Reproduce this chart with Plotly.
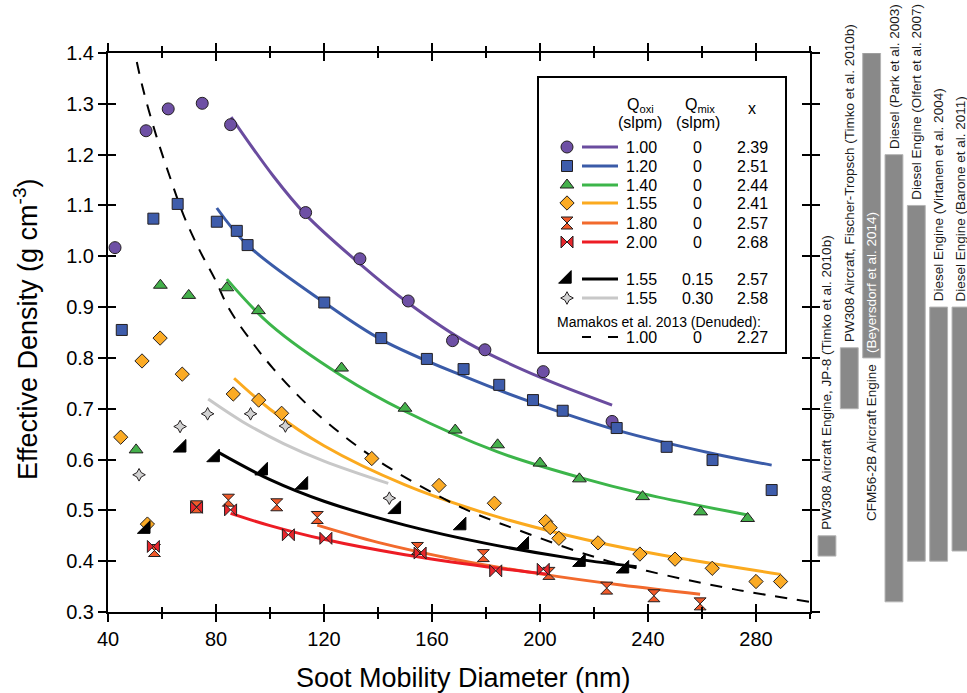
import plotly.graph_objects as go

# ---------------- data ----------------
# Measured points: soot mobility diameter (nm) and effective density (g cm^-3)
purple_d = [42.6, 54.1, 62.3, 74.9, 85.4, 113.2, 133.3, 151.2, 167.6, 179.6, 201.2, 226.7]
purple_r = [1.017, 1.247, 1.290, 1.301, 1.259, 1.086, 0.995, 0.912, 0.834, 0.816, 0.773, 0.675]

blue_d = [45.1, 56.8, 65.8, 80.3, 87.7, 91.7, 120.1, 141.2, 158.1, 171.7, 184.9, 197.4, 208.4, 228.4, 246.9, 263.9, 285.8]
blue_r = [0.855, 1.074, 1.103, 1.068, 1.050, 1.022, 0.909, 0.839, 0.798, 0.778, 0.747, 0.717, 0.696, 0.662, 0.625, 0.599, 0.540]

green_d = [50.4, 59.4, 69.9, 84.0, 95.7, 126.5, 150.0, 168.6, 184.3, 200.0, 214.6, 238.0, 259.5, 276.9]
green_r = [0.619, 0.943, 0.923, 0.938, 0.893, 0.780, 0.701, 0.658, 0.629, 0.593, 0.562, 0.527, 0.497, 0.484]

orange_d = [44.7, 52.6, 54.6, 59.3, 67.5, 86.4, 95.8, 104.3, 137.7, 162.6, 183.1, 202.1, 203.8, 207.0, 221.5, 237.0, 250.0, 263.8, 280.0, 289.1]
orange_r = [0.644, 0.794, 0.473, 0.839, 0.768, 0.729, 0.717, 0.691, 0.602, 0.549, 0.514, 0.478, 0.466, 0.445, 0.436, 0.414, 0.404, 0.386, 0.360, 0.360]

hour_d = [57.2, 72.8, 84.6, 102.5, 117.5, 154.6, 179.0, 203.3, 224.7, 242.2, 259.3]
hour_r = [0.421, 0.507, 0.520, 0.511, 0.486, 0.425, 0.411, 0.376, 0.347, 0.332, 0.316]

bow_d = [56.8, 72.8, 85.4, 106.8, 120.7, 155.6, 183.6, 201.2]
bow_r = [0.429, 0.506, 0.501, 0.452, 0.445, 0.416, 0.381, 0.384]

black_d = [54.0, 67.3, 79.7, 97.5, 112.4, 146.8, 171.0, 194.2, 215.2, 231.3]
black_r = [0.463, 0.623, 0.604, 0.578, 0.550, 0.502, 0.470, 0.432, 0.398, 0.385]

gray_d = [51.5, 66.7, 76.9, 92.8, 105.7, 144.2]
gray_r = [0.570, 0.665, 0.690, 0.690, 0.666, 0.524]

# Fit curves
purple_fit_d = [85.6, 101.2, 113.2, 133.3, 151.2, 173.4, 200.0, 226.7]
purple_fit_r = [1.274, 1.158, 1.082, 0.985, 0.908, 0.829, 0.762, 0.707]
blue_fit_d = [80.3, 91.7, 120.1, 141.2, 171.7, 197.4, 228.4, 263.9, 285.8]
blue_fit_r = [1.095, 1.022, 0.909, 0.836, 0.764, 0.712, 0.658, 0.612, 0.589]
green_fit_d = [84.0, 100.0, 126.5, 150.0, 184.3, 214.6, 238.0, 276.9]
green_fit_r = [0.955, 0.866, 0.765, 0.695, 0.615, 0.565, 0.533, 0.491]
orange_fit_d = [86.7, 100.0, 120.0, 150.0, 180.0, 210.0, 240.0, 289.1]
orange_fit_r = [0.760, 0.699, 0.627, 0.550, 0.494, 0.451, 0.417, 0.374]
hour_fit_d = [117.5, 140.0, 170.0, 200.0, 230.0, 259.3]
hour_fit_r = [0.471, 0.437, 0.402, 0.375, 0.353, 0.335]
red_fit_d = [85.4, 100.0, 120.0, 150.0, 180.0, 203.0]
red_fit_r = [0.494, 0.470, 0.443, 0.4125, 0.389, 0.3745]
black_fit_d = [80.9, 100.0, 120.0, 150.0, 180.0, 210.0, 235.8]
black_fit_r = [0.614, 0.5605, 0.518, 0.471, 0.435, 0.407, 0.389]
gray_fit_d = [77.1, 90.0, 105.0, 120.0, 143.8]
gray_fit_r = [0.719, 0.674, 0.6315, 0.597, 0.553]
mamakos_d = [49.0, 52.7, 58.0, 63.0, 67.9, 73.8, 79.6, 84.9, 93.8, 101.2, 113.6, 128.4, 144.4, 170.4, 195.1, 222.2, 246.9, 271.6, 300.0]
mamakos_r = [1.425, 1.335, 1.235, 1.155, 1.082, 1.013, 0.955, 0.896, 0.828, 0.779, 0.709, 0.642, 0.583, 0.507, 0.455, 0.405, 0.372, 0.345, 0.320]

# Literature ranges (side panel)
lit_labels = ["PW308 Aircraft Engine, JP-8 (Timko et al. 2010b)",
              "PW308 Aircraft, Fischer-Tropsch (Timko et al. 2010b)",
              "CFM56-2B Aircraft Engine",
              "Diesel (Park et al. 2003)",
              "Diesel Engine (Olfert et al. 2007)",
              "Diesel Engine (Virtanen et al. 2004)",
              "Diesel Engine (Barone et al. 2011)"]
lit_low = [0.41, 0.70, 0.80, 0.32, 0.40, 0.40, 0.42]
lit_high = [0.45, 0.82, 1.40, 1.20, 1.10, 0.90, 0.90]

# Legend table
leg_qoxi = ["1.00", "1.20", "1.40", "1.55", "1.80", "2.00", "1.55", "1.55", "1.00"]
leg_qmix = ["0", "0", "0", "0", "0", "0", "0.15", "0.30", "0"]
leg_x = ["2.39", "2.51", "2.44", "2.41", "2.57", "2.68", "2.57", "2.58", "2.27"]

x_ticks = [40, 80, 120, 160, 200, 240, 280]
x_minor_ticks = [60, 100, 140, 180, 220, 260, 300]

# ---------------- geometry ----------------
W, H = 967, 693
L, T, B = 108, 53, 81
PW = 702
PH = H - T - B
INNER_W = W - L


def fx(px):
    return (px - L) / PW


def fy(py):
    return (H - B - py) / PH


def ppx(px):
    return (px - L) / INNER_W


FONT = "Liberation Sans, Arial, Helvetica, sans-serif"
OUT = "#231F20"

styles = [
    # fit_d, fit_r, d, r, symbol, line color, fill, size
    (purple_fit_d, purple_fit_r, purple_d, purple_r, "circle", "#6A4C9F", "#6E50A5", 12),
    (blue_fit_d, blue_fit_r, blue_d, blue_r, "square", "#3A5BA8", "#3E5CAB", 11),
    (green_fit_d, green_fit_r, green_d, green_r, "triangle-up", "#3CB54A", "#44B04B", 12),
    (orange_fit_d, orange_fit_r, orange_d, orange_r, "diamond", "#FBAA1F", "#FBAB25", 11),
    (hour_fit_d, hour_fit_r, hour_d, hour_r, "hourglass", "#F26A2D", "#F15A29", 12),
    (red_fit_d, red_fit_r, bow_d, bow_r, "bowtie", "#ED1C24", "#E8262C", 12),
    (black_fit_d, black_fit_r, black_d, black_r, "triangle-se", "#000000", "#000000", 14),
    (gray_fit_d, gray_fit_r, gray_d, gray_r, "star-diamond", "#C8C8C8", "#D2D2D2", 9),
]

fig = go.Figure()

# fit lines
for fd, fr, d, r, sym, lc, fc, sz in styles:
    fig.add_trace(go.Scatter(x=fd, y=fr, mode="lines", line=dict(color=lc, width=3, shape="spline"),
                             hoverinfo="skip", showlegend=False))
fig.add_trace(go.Scatter(x=mamakos_d, y=mamakos_r, mode="lines",
                         line=dict(color="black", width=2, dash="12px,10px", shape="spline"),
                         hoverinfo="skip", showlegend=False))
# markers
for fd, fr, d, r, sym, lc, fc, sz in styles:
    fig.add_trace(go.Scatter(x=d, y=r, mode="markers",
                             marker=dict(symbol=sym, size=sz, color=fc,
                                         line=dict(color=OUT if fc != "#000000" else "#000000", width=1)),
                             showlegend=False, cliponaxis=False))

# dummy trace for overlay (inside ticks)
fig.add_trace(go.Scatter(x=[None], y=[None], xaxis="x2", yaxis="y2", showlegend=False, hoverinfo="skip"))

# literature bars on side subplot
fig.add_trace(go.Bar(x=list(range(len(lit_labels))), y=[h - l for h, l in zip(lit_high, lit_low)],
                     base=lit_low, width=0.8, xaxis="x4", yaxis="y4",
                     marker=dict(color="#898989", line=dict(color="#B4B4B4", width=1)),
                     showlegend=False, hoverinfo="skip"))

# ---------------- legend (table) ----------------
row_py = [147, 166, 185, 203, 223, 242, 279, 298, 337]
mk_x = fx(567)
for i, (fd, fr, d, r, sym, lc, fc, sz) in enumerate(styles):
    fig.add_trace(go.Scatter(x=[mk_x], y=[fy(row_py[i])], mode="markers", xaxis="x3", yaxis="y3",
                             marker=dict(symbol=sym, size=sz, color=fc,
                                         line=dict(color=OUT if fc != "#000000" else "#000000", width=1)),
                             showlegend=False, hoverinfo="skip", cliponaxis=False))

shapes = []
shapes.append(dict(type="rect", xref="x3", yref="y3", x0=fx(538), x1=fx(786), y0=fy(77), y1=fy(353),
                   line=dict(color="black", width=2), fillcolor="white", layer="below"))
for i, st in enumerate(styles):
    shapes.append(dict(type="line", xref="x3", yref="y3", x0=fx(582), x1=fx(618),
                       y0=fy(row_py[i]), y1=fy(row_py[i]), line=dict(color=st[5], width=3)))
for a, b in [(582, 591), (608, 618)]:
    shapes.append(dict(type="line", xref="x3", yref="y3", x0=fx(a), x1=fx(b),
                       y0=fy(row_py[8]), y1=fy(row_py[8]), line=dict(color="black", width=2)))

ann = []


def legtext(txt, px, py, size=16, xanchor="center"):
    ann.append(dict(text=txt, xref="x3", yref="y3", x=fx(px), y=fy(py), showarrow=False,
                    xanchor=xanchor, yanchor="middle", font=dict(size=size, color="black", family=FONT)))


legtext("Q<sub>oxi</sub>", 640, 105)
legtext("(slpm)", 640, 122)
legtext("Q<sub>mix</sub>", 700, 105)
legtext("(slpm)", 698, 122)
legtext("x", 752, 108)
for i in range(len(leg_qoxi)):
    legtext(leg_qoxi[i], 641, row_py[i])
    legtext(leg_qmix[i], 697, row_py[i])
    legtext(leg_x[i], 752, row_py[i])
legtext("Mamakos et al. 2013 (Denuded):", 659, 322, size=14)

# axis titles
ann.append(dict(text="Soot Mobility Diameter (nm)", xref="paper", yref="paper", x=ppx(463), y=fy(678),
                showarrow=False, xanchor="center", yanchor="middle", font=dict(size=27, family=FONT, color="black")))
ann.append(dict(text="Effective Density (g cm<sup>-3</sup>)", xref="paper", yref="paper", x=ppx(26), y=fy(330),
                showarrow=False, textangle=-90, xanchor="center", yanchor="middle",
                font=dict(size=27, family=FONT, color="black")))

# literature labels
SIDE_FONT = dict(size=13.5, family=FONT, color="#1a1a1a")
for i, lab in enumerate(lit_labels):
    if i == 2:
        ann.append(dict(text=lab, xref="x4", yref="y4", x=i, y=lit_low[i], showarrow=False, textangle=-90,
                        xanchor="center", yanchor="top", yshift=-4, font=SIDE_FONT))
        ann.append(dict(text="(Beyersdorf et al. 2014)", xref="x4", yref="y4", x=i, y=lit_low[i], showarrow=False,
                        textangle=-90, xanchor="center", yanchor="bottom", yshift=3,
                        font=dict(size=13.5, family=FONT, color="white")))
    else:
        ann.append(dict(text=lab, xref="x4", yref="y4", x=i, y=lit_high[i], showarrow=False, textangle=-90,
                        xanchor="center", yanchor="bottom", yshift=4, font=SIDE_FONT))

main_dom = [0, PW / INNER_W]
side_dom = [ppx(815.8), 1.0]

tickfont = dict(size=20, family=FONT, color="black")
xbase = dict(range=[40, 300], tickmode="array", tickvals=x_ticks, showline=True, linewidth=2, linecolor="black",
             tickwidth=2, tickcolor="black", ticklen=8, mirror="ticks", showgrid=False, zeroline=False,
             domain=main_dom, tickfont=tickfont)
ybase = dict(range=[0.3, 1.4], tick0=0.3, dtick=0.1, tickformat=".1f", showline=True, linewidth=2,
             linecolor="black", tickwidth=2, tickcolor="black", ticklen=8, mirror="ticks", showgrid=False,
             zeroline=False, domain=[0, 1], tickfont=tickfont)

xaxis = dict(xbase, ticks="outside", anchor="y",
             minor=dict(ticks="outside", tickvals=x_minor_ticks, ticklen=5, tickwidth=2,
                        tickcolor="black", showgrid=False))
xaxis2 = dict(xbase, ticks="inside", anchor="y2", overlaying="x", showticklabels=False,
              minor=dict(ticks="inside", tickvals=x_minor_ticks, ticklen=5, tickwidth=2,
                         tickcolor="black", showgrid=False))
yaxis = dict(ybase, ticks="outside", anchor="x")
yaxis2 = dict(ybase, ticks="inside", anchor="x2", overlaying="y", showticklabels=False)

fig.update_layout(
    width=W, height=H,
    margin=dict(l=L, r=0, t=T, b=B, autoexpand=False),
    paper_bgcolor="white", plot_bgcolor="rgba(0,0,0,0)",
    showlegend=False,
    font=dict(family=FONT, color="black"),
    xaxis=xaxis, xaxis2=xaxis2, yaxis=yaxis, yaxis2=yaxis2,
    xaxis3=dict(range=[0, 1], visible=False, overlaying="x", anchor="y3", domain=main_dom),
    yaxis3=dict(range=[0, 1], visible=False, overlaying="y", anchor="x3", domain=[0, 1]),
    xaxis4=dict(range=[-0.5, 6.27], visible=False, anchor="y4", domain=side_dom),
    yaxis4=dict(range=[0.3, 1.4], visible=False, anchor="x4", domain=[0, 1]),
    shapes=shapes, annotations=ann,
)

fig.write_html("out.html")
